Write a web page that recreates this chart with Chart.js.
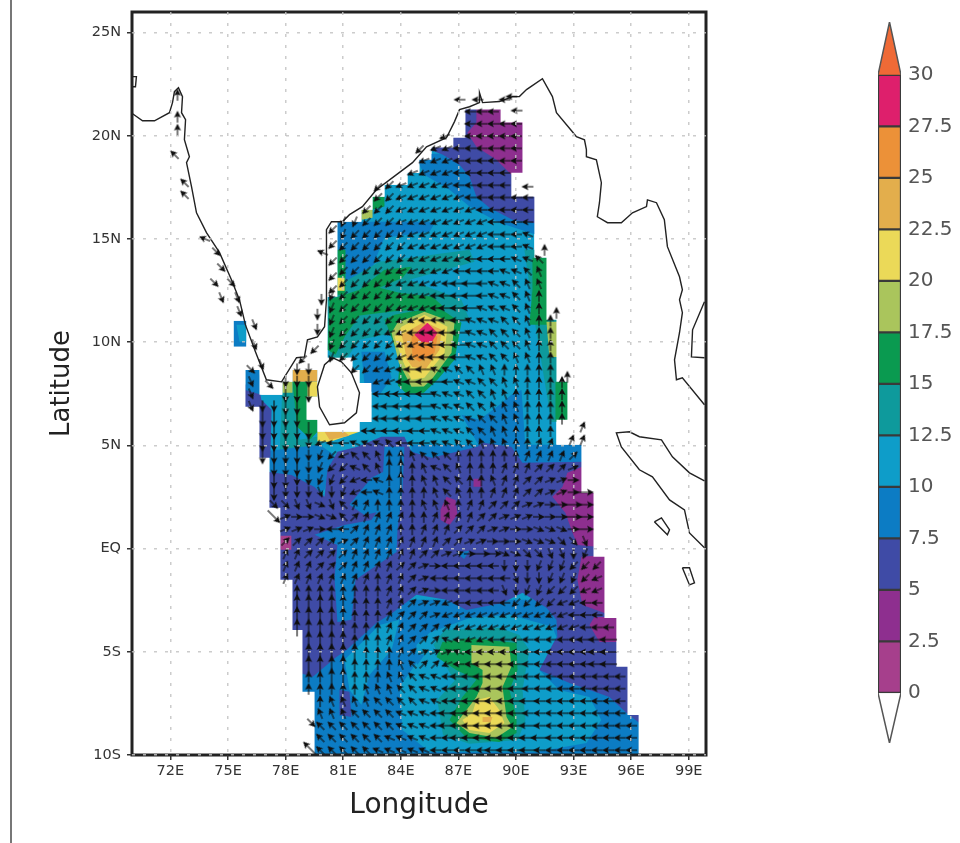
<!DOCTYPE html>
<html>
<head>
<meta charset="utf-8">
<title>Bay of Bengal field</title>
<script src="https://cdn.jsdelivr.net/npm/chart.js@4/dist/chart.umd.js"></script>
<style>
  body { margin: 0; background: #fff; }
  #edge { position: absolute; left: 10px; top: 0; width: 2px; height: 843px; background: #777; }
  #map { position: absolute; left: 0; top: 0; filter: blur(0.45px); }
  #bar { position: absolute; left: 860px; top: 0; filter: blur(0.45px); }
</style>
</head>
<body>
<div id="edge"></div>
<canvas id="map" width="960" height="843"></canvas>
<canvas id="bar" width="100" height="843"></canvas>
<script>
const bandColors = ["#a63f8c", "#8e2f8f", "#3f4ba6", "#0c7cc4", "#0e9dc9", "#0e9a9c", "#0a9a50",
                    "#aac55c", "#ebd958", "#e3ae4c", "#ec9138", "#de1f6c"];
const aboveColor = "#ef6a36";
const bandEdges = [0, 2.5, 5, 7.5, 10, 12.5, 15, 17.5, 20, 22.5, 25, 27.5, 30];
const bandLabels = ["0", "2.5", "5", "7.5", "10", "12.5", "15", "17.5", "20", "22.5", "25", "27.5", "30"];

const lonTicks = [72, 75, 78, 81, 84, 87, 90, 93, 96, 99];
const lonLabels = ["72E", "75E", "78E", "81E", "84E", "87E", "90E", "93E", "96E", "99E"];
const latTicks = [-10, -5, 0, 5, 10, 15, 20, 25];
const latLabels = ["10S", "5S", "EQ", "5N", "10N", "15N", "20N", "25N"];

// model sea area, lon,lat pairs
const seaOutline = [87.37,21.27, 87.37,19.91, 86.74,19.91, 86.74,19.43, 85.6,19.43, 85.6,18.84, 84.97,18.84, 84.97,18.21,
  84.35,18.21, 84.35,17.63, 83.15,17.63, 83.15,17.05, 82.53,17.05, 82.53,16.42, 81.95,16.42, 81.95,15.84, 80.7,15.84,
  80.7,12.2, 80.18,12.2, 80.18,9.25, 81.48,9.25, 81.48,8.66, 81.85,8.66, 81.85,8.03, 82.47,8.03, 82.47,6.14, 81.85,6.14,
  81.85,5.66, 79.66,5.66, 79.66,6.24, 79.09,6.24, 79.09,7.36, 79.66,7.36, 79.66,8.66, 78.36,8.66, 78.36,8.08, 77.84,8.08,
  77.84,7.45, 76.64,7.45, 76.64,8.66, 75.91,8.66, 75.91,6.87, 76.64,6.87, 76.64,4.4, 77.16,4.4, 77.16,1.98, 77.73,1.98,
  77.73,-1.51, 78.36,-1.51, 78.36,-3.94, 78.88,-3.94, 78.88,-6.94, 79.51,-6.94, 79.51,-10, 96.39,-10, 96.39,-8.06,
  95.81,-8.06, 95.81,-5.73, 95.23,-5.73, 95.23,-3.36, 94.61,-3.36, 94.61,-0.4, 94.04,-0.4, 94.04,2.7, 93.41,2.7, 93.41,5.03,
  92.11,5.03, 92.11,6.24, 92.68,6.24, 92.68,8.08, 92.11,8.08, 92.11,11.09, 91.59,11.09, 91.59,14.09, 90.96,14.09, 90.96,17.05,
  89.76,17.05, 89.76,18.21, 90.34,18.21, 90.34,20.64, 89.2,20.64, 89.2,21.27];
const seaPatch = [75.29,11.04, 75.29,9.78, 75.96,9.78, 75.96,11.04];

// contour regions: [band index, lon,lat pairs], painted in this order
const regions = [
  [3, [78.72,-2.48, 96.96,-2.48, 96.96,-10.2, 78.72,-10.2]],
  [3, [84.71,19.09, 91.22,19.33, 91.22,15.16, 89.14,15.79, 87.58,16.57, 86.54,17.39, 85.23,18.12]],
  [3, [80.7,15.84, 85.81,15.84, 85.5,15.35, 83.15,15.06, 82.63,13.9, 82.37,13.03, 81.07,13.03, 80.7,13.51]],
  [2, [86.8,21.36, 91.22,21.36, 91.22,15.74, 89.82,15.94, 88.62,16.52, 87.94,17.05, 87.58,18.02, 87.06,18.6, 86.17,19.09, 85.5,19.33, 86.54,20.06, 87.17,20.54]],
  [1, [87.94,21.36, 89.4,21.36, 90.7,20.78, 90.7,18.07, 89.82,18.07, 88.98,18.84, 87.94,19.47, 87.47,20.15, 87.94,20.64]],
  [5, [80.81,12.79, 82.89,13.9, 87.58,14.48, 87.84,13.9, 84.45,13.03, 87.16,12.06, 87.58,11.09, 83.93,10.51, 81.85,10.12, 81.07,9.05, 80.29,9.25, 80.18,12.06]],
  [6, [80.29,12.06, 81.07,12.3, 81.85,12.54, 83.15,13.51, 84.56,13.66, 84.09,13.12, 82.89,12.64, 83.93,12.4, 85.65,12.2, 86.28,11.67, 83.67,11.5, 81.85,11.3, 81.1,10.3, 80.6,9.39, 80.18,9.63]],
  [3, [81.95,9.54, 83.15,9.54, 83.52,8.28, 82.79,7.31, 82.11,7.94]],
  [6, [83.15,11.09, 83.67,11.33, 85.91,11.72, 87.16,10.94, 86.8,9.15, 85.91,8.18, 85.2,7.55, 84.3,7.5, 83.85,7.9, 83.95,9.15, 83.31,10.75]],
  [7, [83.83,10.94, 85.23,11.48, 86.8,10.94, 86.64,9.49, 85.6,8.18, 85.2,7.85, 84.56,7.84, 83.9,9.0, 83.52,10.46]],
  [8, [84.04,10.75, 85.23,11.33, 86.43,10.75, 86.28,9.49, 85.23,8.28, 84.56,8.18, 84.1,9.1, 83.67,10.26]],
  [9, [84.04,10.36, 85.23,10.99, 86.12,10.6, 86.02,9.63, 85.3,8.7, 84.6,8.8, 84.3,9.2, 84.19,9.78]],
  [10, [84.56,10.26, 85.23,10.75, 85.91,10.26, 85.76,9.49, 84.97,9.05, 84.61,9.29]],
  [11, [84.71,10.36, 85.39,10.94, 85.91,10.46, 85.6,9.97, 85.08,10.02]],
  [5, [90.44,14.48, 91.64,14.48, 91.64,11.18, 92.26,11.18, 92.89,8.18, 92.89,6.14, 91.85,6.14, 91.48,8.18, 90.96,11.09]],
  [6, [90.86,14.09, 91.64,14.09, 91.64,10.85, 90.7,10.85, 90.86,12.54]],
  [7, [91.59,10.99, 92.16,10.99, 92.16,9.29, 91.74,9.29]],
  [6, [92.06,8.08, 92.79,8.08, 92.79,6.19, 92.06,6.19]],
  [6, [80.7,14.48, 81.12,14.48, 81.12,12.3, 80.7,12.3]],
  [8, [80.7,13.12, 81.07,13.12, 81.07,12.49, 80.7,12.49]],
  [6, [82.53,17.05, 83.15,17.05, 83.15,16.57, 82.53,16.42]],
  [7, [81.95,16.42, 82.53,16.42, 82.53,16.03, 81.95,15.93]],
  [5, [77.84,7.95, 78.46,7.95, 78.73,5.27, 79.86,5.46, 79.76,5.03, 78.2,3.82, 77.68,4.3]],
  [6, [78.36,8.08, 79.14,8.08, 79.14,6.24, 79.66,6.24, 79.66,5.66, 79.3,5.3, 78.6,5.9]],
  [9, [78.36,8.66, 79.66,8.66, 79.66,8.08, 78.36,8.08]],
  [8, [79.14,8.08, 79.66,8.08, 79.66,7.36, 79.14,7.36]],
  [7, [77.84,8.08, 78.36,8.08, 78.36,7.55, 77.84,7.55]],
  [8, [79.66,5.66, 81.85,5.66, 80.29,5.17, 79.66,5.2]],
  [9, [80.03,5.66, 81.07,5.66, 81.33,5.47, 80.29,5.27]],
  [3, [77.16,4.74, 79.76,5.03, 80.55,4.54, 80.03,2.85, 78.72,2.12, 77.16,3.57]],
  [3, [87.16,6.48, 88.1,6.24, 89.14,6.97, 89.76,7.45, 90.29,7.69, 90.49,4.93, 88.1,4.93]],
  [3, [84.56,5.03, 93.57,5.03, 93.57,4.06, 84.56,4.06]],
  [2, [77.06,3.72, 78.31,3.57, 79.51,2.99, 80.03,2.51, 80.18,3.82, 80.7,4.69, 81.74,4.93, 82.99,5.42, 84.19,5.42, 84.56,4.69, 85.6,4.4, 87.99,4.93, 88.26,5.13, 89.76,4.93, 90.34,4.16, 93.57,4.21, 94.87,4.21, 96.43,-7.33, 96.43,-8.45, 95.76,-7.96, 94.87,-7.19, 92.79,-6.51, 91.22,-5.88, 91.59,-5.05, 92.16,-4.28, 92.11,-3.45, 91.59,-2.87, 90.34,-2.14, 89.3,-2.63, 87.42,-2.97, 86.38,-2.48, 84.82,-2.24, 83.57,-3.11, 82.73,-3.6, 81.17,-4.91, 80.65,-5.25, 79.4,-6.22, 78.72,-6.02, 77.16,-2.48]],
  [2, [75.81,7.92, 76.54,8.18, 76.74,7.21, 77.27,6.73, 77.21,4.4, 76.54,4.3, 76.54,6.73, 75.81,6.73]],
  [3, [75.91,8.66, 76.64,8.66, 76.74,7.45, 75.91,7.69]],
  [3, [75.29,11.04, 75.96,11.04, 75.96,9.78, 75.29,9.78]],
  [4, [75.44,10.85, 75.96,10.85, 75.96,10.02, 75.6,10.02]],
  [3, [83.15,4.93, 84.19,4.93, 84.09,2.85, 83.83,0.91, 83.78,-0.16, 81.64,-1.51, 81.43,-3.45, 80.7,-3.55, 80.55,-1.42, 80.7,0.18, 79.51,0.67, 81.07,1.15, 82.47,1.39, 82.99,2.12]],
  [3, [81.33,2.12, 82.47,3.43, 83.31,3.82, 83.31,1.88, 82.11,1.63]],
  [1, [93.57,4.01, 92.68,3.67, 92.42,2.99, 91.9,2.51, 92.58,1.73, 92.89,0.91, 93.2,0.18, 94.35,0.08, 94.35,4.01]],
  [1, [93.41,-0.4, 94.87,-0.3, 94.87,-3.21, 93.46,-2.73, 93.2,-1.51]],
  [1, [94.09,-3.31, 95.39,-3.31, 95.39,-4.52, 94.35,-4.52, 93.83,-3.7]],
  [1, [86.07,1.88, 86.38,2.51, 86.85,2.36, 86.95,1.64, 86.54,1.15, 86.07,1.39]],
  [1, [87.79,3.38, 88.2,3.38, 88.2,3.0, 87.79,3.0]],
  [0, [77.73,0.62, 78.3,0.62, 78.3,-0.06, 77.73,-0.06]],
  [3, [86.9,-0.2, 87.58,-0.1, 87.3,-0.5]],
  [4, [84.82,-4.66, 85.5,-4.08, 87.58,-3.36, 89.66,-3.21, 91.9,-3.79, 92.11,-4.28, 91.22,-5.88, 92.26,-6.85, 93.83,-7.19, 94.45,-8.3, 93.67,-9.42, 91.06,-9.85, 85.5,-9.85, 84.09,-8.79, 83.93,-6.7, 84.82,-5.54]],
  [4, [81.07,-5.39, 82.89,-3.7, 83.93,-3.45, 83.52,-4.91, 82.37,-6.12, 81.95,-7.57, 81.33,-6.85]],
  [2, [80.81,-6.85, 81.33,-6.94, 81.43,-8.16, 80.81,-8.06]],
  [3, [84.56,-5.05, 85.23,-5.15, 84.87,-5.63]],
  [5, [85.7,-4.66, 86.28,-3.94, 89.14,-3.84, 90.18,-4.18, 90.7,-4.91, 90.34,-6.85, 90.5,-8.3, 90.1,-9.27, 87.58,-9.45, 86.2,-9.03, 85.9,-7.33, 86.8,-6.4]],
  [6, [86.17,-4.52, 87.58,-4.33, 90.03,-4.57, 90.08,-5.88, 89.66,-6.85, 90.03,-8.16, 90.03,-8.93, 89.14,-9.37, 87.42,-9.17, 86.54,-8.3, 87.21,-7.19, 87.94,-6.36, 86.9,-5.88, 85.86,-5.25]],
  [7, [87.68,-4.67, 89.66,-4.76, 89.76,-5.73, 89.3,-6.7, 89.51,-8.16, 89.82,-8.64, 88.98,-9.17, 87.58,-8.93, 86.9,-8.45, 87.42,-7.82, 87.94,-7.19, 88.26,-6.51, 88.26,-5.88, 87.68,-5.54]],
  [8, [87.94,-7.33, 88.62,-7.19, 89.14,-7.82, 89.4,-8.45, 88.62,-8.93, 87.58,-8.79, 87.21,-8.3, 87.73,-7.96]],
  [9, [88.26,-8.16, 88.78,-8.16, 88.68,-8.4, 88.26,-8.4]]
];

const coastMain = [70.03,21.07, 70.55,20.73, 71.17,20.73, 71.95,21.12, 72.11,21.61, 72.21,22.14, 72.42,22.33, 72.63,21.9, 72.58,21.12,
  72.79,20.78, 72.73,19.81, 72.99,18.99, 72.84,18.7, 73.1,17.54, 73.36,16.27, 73.88,15.31, 74.56,14.34, 75.18,13.03, 75.6,12.05,
  75.91,10.84, 76.43,9.54, 77.0,8.18, 77.79,8.08, 78.57,9.25, 78.98,9.29, 79.14,10.12, 79.66,10.26, 80.03,10.75, 80.13,12.06,
  80.13,15.45, 80.39,15.84, 80.96,15.84, 81.33,16.18, 82.0,16.57, 82.73,17.39, 83.78,18.12, 84.61,18.7, 85.34,19.47, 86.38,19.91,
  86.8,20.69, 87.06,21.27, 87.58,21.41, 88.1,21.61, 88.1,22.09, 88.26,21.61, 89.14,21.66, 89.82,21.9, 90.18,21.9, 90.55,22.24,
  91.38,22.77, 91.9,21.9, 92.11,21.12, 92.94,20.2, 93.15,19.96, 93.57,19.81, 93.67,19.33, 93.67,18.99, 94.19,18.84, 94.45,17.73,
  94.35,16.76, 94.24,16.08, 94.77,15.79, 95.49,15.79, 96.07,16.27, 96.8,16.57, 96.85,16.9, 97.32,16.76, 97.73,15.94, 97.89,14.63,
  98.52,13.17, 98.67,12.54, 98.52,12.06, 98.67,11.43, 98.52,10.46, 98.26,9.15, 98.36,8.18, 98.67,8.28, 99.82,6.97];
const coastPeninsula = [99.82,11.96, 99.2,10.6, 99.14,9.29, 99.82,9.25];
const coastSumatra = [99.82,3.28, 99.04,3.67, 98.15,4.45, 97.58,5.27, 96.43,5.42, 95.91,5.66, 95.23,5.61, 95.49,4.93, 96.43,3.82,
  97.11,3.48, 98.0,2.36, 98.78,1.88, 99.04,0.76, 99.82,0.04];
const coastIslandA = [97.21,1.3, 97.58,1.49, 98,0.91, 97.89,0.67, 97.21,1.3];
const coastIslandB = [98.67,-0.93, 99.04,-0.93, 99.3,-1.66, 99.04,-1.76, 98.67,-0.93];
const coastSriLanka = [80.44,9.25, 80.03,8.91, 79.66,7.84, 79.77,6.87, 80.29,6.0, 81.07,6.1, 81.69,6.58, 81.85,7.55, 81.43,8.52, 80.91,9.05, 80.44,9.25];
const coastStub = [70.03,22.87, 70.23,22.87, 70.18,22.38, 70.03,22.38];

// current vectors: one letter per grid column, a=E then anticlockwise in 16 steps, capital = fast
const colLons = [75.6,76.2,76.8,77.4,78,78.6,79.2,79.8,80.4,81,81.6,82.2,82.8,83.4,84,84.6,85.2,85.8,86.4,87,87.6,88.2,88.8,89.4,90,90.6,91.2,91.8,92.4,93,93.6,94.2,94.8,95.4,96];
const rowLats = [21.17,20.58,19.98,19.39,18.79,18.2,17.6,17.01,16.41,15.82,15.22,14.63,14.03,13.44,12.84,12.25,11.65,11.06,10.46,9.87,9.27,8.68,8.08,7.49,6.89,6.3,5.7,5.11,4.51,3.92,3.32,2.73,2.13,1.54,0.94,0.35,-0.25,-0.84,-1.44,-2.03,-2.63,-3.22,-3.82,-4.41,-5.01,-5.6,-6.2,-6.79,-7.39,-7.98,-8.58,-9.17,-9.77];
const rowStart = [20,20,20,17,16,15,13,12,11,9,9,9,9,9,9,8,8,8,8,8,8,1,1,1,1,2,2,2,2,3,3,3,3,3,4,4,4,4,4,5,5,5,5,6,6,6,6,6,7,7,7,7,7];
const rowVectors = [
  "iii", "iiiii", "iiiii", "jjiiiiii", "jjjiiiiii", "jjjjiiiii", "kjjjjjiiiii", "kkjjjjjjiiiiii", "kkkjjjjjjjiiiii",
  "llkkkjjjjjjjjiiii", "lkkkkkjjjjjjjiiih", "kkkkkkjjjjjjjiiih", "kkkkkkjjjjjiiiihhg", "kkkkkjjjjjiiiihhgf", "kkkkkjjjjiIIihhgff",
  "lkkkkkjjjiIIIihhgfe", "lkkkkkjjjiIIIhhhgfe", "lkkkkkjjiiIIhhhggfee", "lkkkkjjiiIIIhhgggfee", "lkkkkkjjiIIIhhgggfee", "lkkkkkjjiIIIhhggffee",
  "o   mm   kkjjiIIhhggffeeeee", "n  mmm     jjiIIIihhggffeeee", "n  MMM     iiIIIhhhggffeeeee", "nmmMM      iIIIIhhhggfffeeee",
  "MMMM      iIIIIhhhhggffeeee", "MMMMM    iIIIiihhhggffeeee", "MMMMmjiihhhgiiihhggfffeedd", "MMMMmlkjggfeefgggeeeeeeddddc",
  "MMMmlkkhgfEEefhgfeeedddcccb", "MMmmllkjiheEeffggeefddccbba", "MmmmnmljiheeeefgfeedddccbbaA", "oonnpngddeeeefffeddcccbbaaAA",
  "ObaappgcddddeeddddccbbbaaaAA", "bbbaiicdddeedddcccbbaapppaA", "cccccbcdddddddccbbaaapppoon", "ddccccddddddccbbaAAppoonnml",
  "dddcccddddccbaiiiiimmmlllkkk", "ddddddddeddcbiiiiiiinmmlllkj", "eeeeeeeeddcbaiiiiinmllkkkjj", "EEEEEeeeddcbbjiiiiikkkkjjii",
  "EEEEEeeedcccbjjjjjjjjjjjiii", "EEEEEeeeddccccjjjjjjjjjjjiii", "EEEEeeeddccchijjiiiiiiiiIII", "EEEEEeeedcbbbhiiiiiiiiiiiII",
  "EEEEeeeefgccjiiIIIIiiiiiiII", "eeEEeeeffghhiIIIIIiiiiiiiiii", "eeeeefffgghhiIIIIIIiiiiiiiii", "effffgggghhiIIIIIIIiiiiiiii",
  "fffgggghhhiIIIIIIIiiiiiiiii", "ggggggghhhiIIIIIIIIiiiiiiiii", "gggggghhhhiiIIIIIIIIiiiiiiii", "ggggghhhhhiiiiiIIIIiiiiiiiii"
];
// vectors outside the model grid, along the coasts
const coastLons = [72.37,72.37,72.37,72.21,72.73,72.73,73.78,74.4,74.66,75.18,74.3,75.49,74.66,75.6,76.38,76.38,76.74,77.16,78.88,79.5,79.66,79.66,79.87,87.06,88,89.4,89.76,90.03,90.6,86.28,84.97,82.8,79.92,80.44,80.44,80.44,80.44,80.44,92.68,92.11,93.47,92.9,93.47,91.49,79.24,79.35];
const coastLats = [21.99,20.93,20.3,19.09,17.73,17.15,15.01,14.38,13.61,12.88,12.88,12.15,12.15,11.48,10.84,9.87,8.91,7.94,9.15,9.63,10.6,11.33,12.05,21.75,21.75,21.75,21.9,21.22,17.53,19.96,19.33,17.49,14.34,15.45,14.72,13.9,13.17,12.54,8.33,11.43,5.9,5.27,5.27,14.48,-9.66,-8.45];
const coastVectors = "eeeggghoooonnnnnnokkmmmiiiiiijkkhkkkkkeedddeGo";

const pairs = flat => flat.reduce((out, v, i) => { if (i % 2 === 0) out.push({ x: v, y: flat[i + 1] }); return out; }, []);

function arrowIcon(fast) {
  const len = fast ? 18 : 12;
  const c = document.createElement("canvas");
  c.width = len + 2; c.height = 10;
  const g = c.getContext("2d");
  g.strokeStyle = g.fillStyle = "#0e0e0e";
  g.lineWidth = 1.1;
  g.beginPath(); g.moveTo(1, 5); g.lineTo(len - 3, 5); g.stroke();
  g.beginPath(); g.moveTo(len + 1, 5); g.lineTo(len - 6, 1.5); g.lineTo(len - 4.5, 5); g.lineTo(len - 6, 8.5); g.closePath(); g.fill();
  return c;
}
const slowIcon = arrowIcon(false), fastIcon = arrowIcon(true);

const vectors = [];
function addVector(lon, lat, code) {
  const lower = code.toLowerCase();
  vectors.push({ x: lon, y: lat, angle: (lower.charCodeAt(0) - 97) * 22.5, fast: code !== lower });
}
rowVectors.forEach((row, r) => {
  [...row].forEach((code, i) => { if (code !== " ") addVector(colLons[rowStart[r] + i], rowLats[r], code); });
});
[...coastVectors].forEach((code, i) => addVector(coastLons[i], coastLats[i], code));

function areaSet(points, color) {
  return { data: points, showLine: true, fill: "shape", backgroundColor: color, borderWidth: 0, pointRadius: 0, tension: 0 };
}
function coastSet(flat) {
  return { data: pairs(flat), showLine: true, fill: false, borderColor: "#222", borderWidth: 1.4, pointRadius: 0, tension: 0 };
}

// white land overlay: frame rectangle with the sea areas cut out
const xMin = 70, xMax = 99.9, yMin = -10, yMax = 26;
const landCover = [
  { x: seaOutline[0], y: yMax }, { x: xMax, y: yMax }, { x: xMax, y: yMin }, { x: xMin, y: yMin }, { x: xMin, y: yMax }, { x: seaOutline[0], y: yMax },
  ...pairs(seaOutline), { x: seaOutline[0], y: seaOutline[1] },
  ...pairs(seaPatch), { x: seaPatch[0], y: seaPatch[1] }, { x: seaOutline[0], y: seaOutline[1] }
];

const mapSets = [
  areaSet(pairs(seaOutline), bandColors[4]),
  ...regions.map(r => areaSet(pairs(r[1]), bandColors[r[0]])),
  areaSet(landCover, "#ffffff"),
  ...[coastMain, coastPeninsula, coastSumatra, coastIslandA, coastIslandB, coastSriLanka, coastStub].map(coastSet),
  {
    data: vectors,
    pointRadius: 3,
    pointStyle: ctx => (ctx.raw && ctx.raw.fast ? fastIcon : slowIcon),
    rotation: ctx => (ctx.raw ? -ctx.raw.angle : 0)
  }
];
mapSets.forEach((d, i) => { d.order = -i; });

const framePlugin = {
  id: "frame",
  afterDatasetsDraw(chart) {
    const a = chart.chartArea, g = chart.ctx;
    g.save();
    g.strokeStyle = "#222";
    g.lineWidth = 3;
    g.strokeRect(a.left, a.top, a.right - a.left, a.bottom - a.top);
    g.restore();
  }
};

const tickFont = { family: "'DejaVu Sans'", size: 14.5 };
new Chart(document.getElementById("map"), {
  type: "scatter",
  data: { datasets: mapSets },
  plugins: [framePlugin],
  options: {
    responsive: false,
    animation: false,
    layout: { padding: { left: 40, right: 254, top: 12, bottom: 0 } },
    plugins: { legend: { display: false }, tooltip: { enabled: false }, filler: { propagate: false } },
    scales: {
      x: {
        type: "linear", min: xMin, max: xMax,
        afterBuildTicks: s => { s.ticks = lonTicks.map(v => ({ value: v })); },
        afterFit: s => { s.height = 88; s.paddingLeft = 0; s.paddingRight = 0; },
        ticks: { font: tickFont, color: "#333", autoSkip: false, maxRotation: 0, padding: 3, z: 1,
          callback: v => lonLabels[lonTicks.indexOf(v)] },
        grid: { color: "rgba(195,195,195,0.85)", lineWidth: 1.5, z: 1, tickLength: 5, tickColor: "#333", tickBorderDash: [] },
        border: { display: false, dash: [3, 8] },
        title: { display: true, text: "Longitude", color: "#222", font: { family: "'DejaVu Sans'", size: 28 }, padding: { top: 0, bottom: 20 } }
      },
      y: {
        type: "linear", min: yMin, max: yMax,
        afterBuildTicks: s => { s.ticks = latTicks.map(v => ({ value: v })); },
        afterFit: s => { s.width = 92; s.paddingTop = 0; s.paddingBottom = 0; },
        ticks: { font: tickFont, color: "#333", autoSkip: false, padding: 6, z: 1,
          callback: v => latLabels[latTicks.indexOf(v)] },
        grid: { color: "rgba(195,195,195,0.85)", lineWidth: 1.5, z: 1, tickLength: 5, tickColor: "#333", tickBorderDash: [] },
        border: { display: false, dash: [3, 8] },
        title: { display: true, text: "Latitude", color: "#222", font: { family: "'DejaVu Sans'", size: 26 }, padding: { top: 7, bottom: 0 } }
      }
    }
  }
});

// colour bar
const capTop = 32.57, capBottom = -2.43;
new Chart(document.getElementById("bar"), {
  type: "bar",
  data: {
    datasets: [
      {
        data: bandColors.map((c, i) => ({ x: 0, y: [bandEdges[i], bandEdges[i + 1]] })),
        backgroundColor: bandColors, borderColor: "#3a3a3a", borderWidth: 1.5, borderSkipped: false, barThickness: 23, grouped: false
      },
      { type: "line", data: [{ x: -1, y: 30 }, { x: 0, y: capTop }, { x: 1, y: 30 }], fill: "shape", backgroundColor: aboveColor,
        borderColor: "#555", borderWidth: 1.5, pointRadius: 0, tension: 0 },
      { type: "line", data: [{ x: -1, y: 0 }, { x: 0, y: capBottom }, { x: 1, y: 0 }], fill: "shape", backgroundColor: "#fff",
        borderColor: "#555", borderWidth: 1.5, pointRadius: 0, tension: 0 }
    ]
  },
  options: {
    responsive: false,
    animation: false,
    layout: { padding: { left: 18, right: 0, top: 22, bottom: 100 } },
    plugins: { legend: { display: false }, tooltip: { enabled: false } },
    scales: {
      x: { type: "linear", min: -1, max: 1, display: false, offset: false },
      y: {
        position: "right", min: capBottom, max: capTop,
        afterBuildTicks: s => { s.ticks = bandEdges.map(v => ({ value: v })); },
        afterFit: s => { s.width = 59; },
        grid: { display: false, drawTicks: false },
        border: { display: false },
        ticks: { autoSkip: false, padding: 7, color: "#555", font: { family: "'DejaVu Sans'", size: 20 },
          callback: v => bandLabels[bandEdges.indexOf(v)] }
      }
    }
  }
});
</script>
</body>
</html>
